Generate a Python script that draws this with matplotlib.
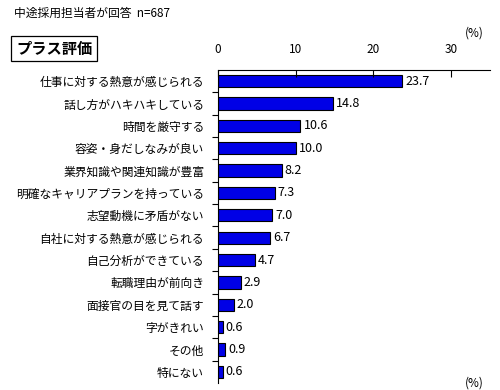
import matplotlib
matplotlib.use("Agg")
import matplotlib.pyplot as plt
import numpy as np

plt.rcParams['font.family'] = ['Noto Sans CJK JP', 'DejaVu Sans']

categories = ["仕事に対する熱意が感じられる", "話し方がハキハキしている", "時間を厳守する",
              "容姿・身だしなみが良い", "業界知識や関連知識が豊富", "明確なキャリアプランを持っている",
              "志望動機に矛盾がない", "自社に対する熱意が感じられる", "自己分析ができている",
              "転職理由が前向き", "面接官の目を見て話す", "字がきれい", "その他", "特にない"]
values = [23.7, 14.8, 10.6, 10.0, 8.2, 7.3, 7.0, 6.7, 4.7, 2.9, 2.0, 0.6, 0.9, 0.6]
xticks = [0, 10, 20, 30]

fig = plt.figure(figsize=(5.0, 3.9), dpi=100)
ax = fig.add_axes([0.436, 0.018, 0.544, 0.8025])

y = np.arange(len(categories))
ax.barh(y, values, height=0.55, color='#0000E6', edgecolor='black', linewidth=0.8)
for yi, v in zip(y, values):
    ax.text(v + 0.4, yi, f"{v:.1f}", va='center', ha='left', fontsize=9)

ax.set_xlim(0, 35)
ax.set_ylim(len(categories) - 0.5, -0.5)
ax.xaxis.tick_top()
ax.set_xticks(xticks)
ax.set_xticklabels([str(t) for t in xticks], fontsize=8.5)
ax.tick_params(axis='x', direction='in', length=5, pad=10, width=0.8)
ax.set_yticks(y)
ax.set_yticklabels(categories, fontsize=8.5)
ax.set_yticks(np.arange(len(categories) - 1) + 0.5, minor=True)
ax.tick_params(axis='y', which='major', length=0, pad=10)
ax.tick_params(axis='y', which='minor', length=4, direction='out', width=0.8)
for s in ['right', 'bottom']:
    ax.spines[s].set_visible(False)
for s in ['top', 'left']:
    ax.spines[s].set_linewidth(0.8)

fig.text(0.028, 0.965, "中途採用担当者が回答  n=687", fontsize=8.5, va='center', ha='left')
fig.text(0.032, 0.875, "プラス評価", fontsize=11, fontweight='bold', va='center', ha='left',
         bbox=dict(boxstyle='square,pad=0.3', facecolor='white', edgecolor='black', linewidth=0.9))
fig.text(0.93, 0.915, "(%)", fontsize=8.5, va='center', ha='left')
fig.text(0.93, 0.002, "(%)", fontsize=8.5, va='bottom', ha='left')

fig.savefig("out.png", dpi=100)
